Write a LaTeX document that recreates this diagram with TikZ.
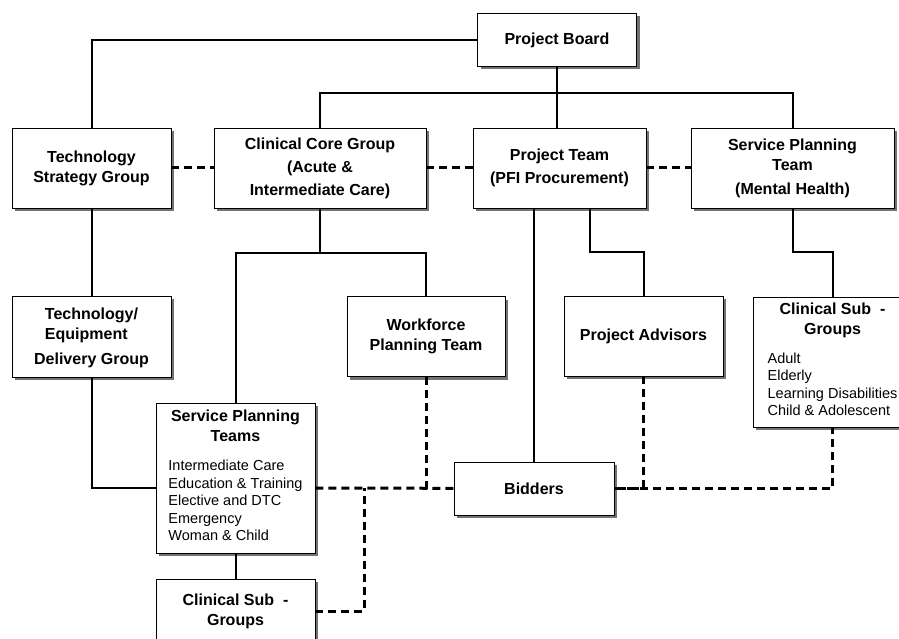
\documentclass[tikz,border=0pt]{standalone}
\usepackage{fontspec}
\setmainfont{Liberation Sans}
\usetikzlibrary{calc,shadows}

\newcommand{\sublist}[1]{{\mdseries\fontsize{14.5}{17.5}\selectfont\begin{tabular}[t]{@{}l@{}}#1\end{tabular}}}

\begin{document}
\begin{tikzpicture}[x=1pt,y=-1pt,inner sep=3pt,
	box/.style={draw,line width=0.9pt,fill=white,align=center,
		font=\fontsize{16}{20}\selectfont\bfseries,minimum width=159,minimum height=80,
		drop shadow={shadow xshift=3pt,shadow yshift=-3pt,fill=black!55,opacity=1}},
	link/.style={line width=2pt},
	loose/.style={line width=3pt,dash pattern=on 8pt off 5pt}]

\useasboundingbox (0,0) rectangle (899,639);
\clip (0,0) rectangle (899,639);

\node[box,minimum height=53] (a0) at (557,40) {Project Board};
\node[box] (a1) at (91.5,168) {Technology\\Strategy Group};
\node[box,minimum width=212] (a2) at (320,168) {Clinical Core Group\\[3pt](Acute \&\\[3pt]Intermediate Care)};
\node[box,minimum width=173] (a3) at (559.5,168) {Project Team\\[3pt](PFI Procurement)};
\node[box,minimum width=203] (a4) at (792.5,168) {Service Planning\\Team\\[4pt](Mental Health)};

\node[box,minimum height=81] (b1) at (91.5,336.5) {\begin{tabular}{@{}l@{}}Technology/\\Equipment\end{tabular}\\[7pt]Delivery Group};
\node[box,minimum width=158] (b2) at (426,336.5) {Workforce\\Planning Team};
\node[box] (b3) at (643.5,336) {Project Advisors};
\node[box,minimum height=130] (b4) at (832.5,362) {Clinical Sub~ -\\Groups\\[9pt]
	\sublist{Adult\\Elderly\\Learning Disabilities\\Child \& Adolescent}};

\node[box,minimum height=150] (c1) at (235.5,478) {Service Planning\\Teams\\[9pt]
	\sublist{Intermediate Care\\Education \& Training\\Elective and DTC\\Emergency\\Woman \& Child}};
\node[box,minimum width=160,minimum height=53] (c2) at (534,488.5) {Bidders};
\node[box,minimum height=64] (d1) at (235.5,611) {Clinical Sub~ -\\Groups};

\coordinate (bus) at (557,93);
\coordinate (j1) at (320,253);
\coordinate (j2) at (364,488);

\draw[link] (a0) -| (a1);
\draw[link] (a0) -- (a0 |- a3.north);
\draw[link] (a2) |- (bus) -| (a4);
\draw[link] (a1) -- (b1);
\draw[link] (a2) -- (j1);
\draw[link] (c1) |- (j1) -| (b2);
\draw[link] (a3.south -| c2.north) -- (c2);
\draw[link] ([xshift=30pt]a3.south) -- ++(0,44) -| (b3);
\draw[link] (a4.south) -- ++(0,44) -| (b4);
\draw[link] (b1) |- ([yshift=-10pt]c1.west);
\draw[link] (c1) -- (d1);

\draw[loose] (a1) -- (a2);
\draw[loose] (a2) -- (a3);
\draw[loose] (a3) -- (a4);
\draw[loose] ([yshift=-10pt]c1.east) -- (c2);
\draw[loose] (b2) -- (b2 |- c2.west);
\draw[loose] (d1) -| (j2);
\draw[loose] (b3) |- (c2);
\draw[loose] (c2) -| (b4);

\end{tikzpicture}
\end{document}
